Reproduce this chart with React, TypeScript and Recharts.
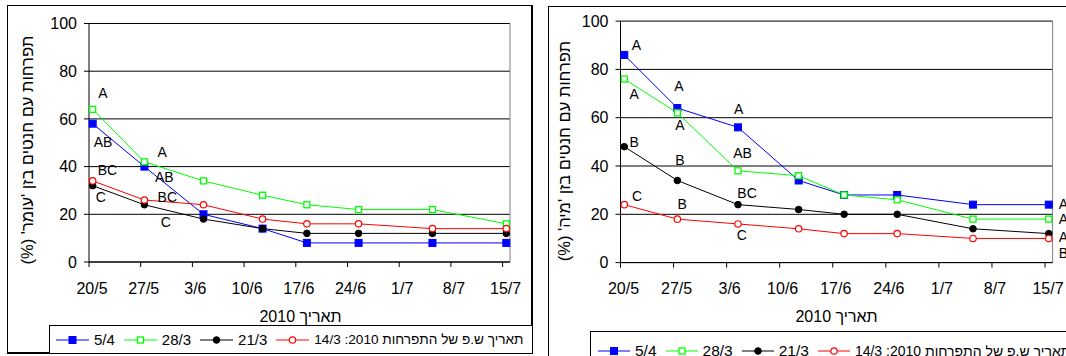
import React from "react";
import { ComposedChart, Line, Scatter, XAxis, YAxis, CartesianGrid, ReferenceLine } from "recharts";

// x axis: days counted from 20/5/2010
const tickDays = [0, 7, 14, 21, 28, 35, 42, 49, 56];
const tickLabels = ["20/5", "27/5", "3/6", "10/6", "17/6", "24/6", "1/7", "8/7", "15/7"];
const yTicks = [0, 20, 40, 60, 80, 100];
const sampleDays = [0.5, 7.5, 15.5, 23.5, 29.5, 36.5, 46.5, 56.5];

// flowering dates (legend order)
const seriesNames = ["5/4", "28/3", "21/3", "14/3"];
const legendTitle = "תאריך ש.פ של התפרחות 2010:";
const xTitle = "תאריך 2010";
const omerTitle = "תפרחות עם חנטים בזן 'עומר' (%)";
const mayaTitle = "תפרחות עם חנטים בזן 'מיה' (%)";

// 'Omer'
const omer54 = [58, 40, 20, 14, 8, 8, 8, 8];
const omer283 = [64, 42, 34, 28, 24, 22, 22, 16];
const omer213 = [32, 24, 18, 14, 12, 12, 12, 12];
const omer143 = [34, 26, 24, 18, 16, 16, 14, 14];

// 'Maya'
const maya54 = [86, 64, 56, 34, 28, 28, 24, 24];
const maya283 = [76, 62, 38, 36, 28, 26, 18, 18];
const maya213 = [48, 34, 24, 22, 20, 20, 14, 12];
const maya143 = [24, 18, 16, 14, 12, 12, 10, 10];

// significance letters
const omerLetters = [
  { day: 1.9, v: 71, text: "A" },
  { day: 1.9, v: 50.4, text: "AB" },
  { day: 2.5, v: 38.6, text: "BC" },
  { day: 1.6, v: 27.1, text: "C" },
  { day: 9.9, v: 46.2, text: "A" },
  { day: 10.2, v: 35.8, text: "AB" },
  { day: 10.6, v: 27.1, text: "BC" },
  { day: 10.4, v: 16.9, text: "C" },
];
const mayaLetters = [
  { day: 2.1, v: 90.1, text: "A" },
  { day: 1.8, v: 69.8, text: "A" },
  { day: 1.8, v: 49.8, text: "B" },
  { day: 2.2, v: 27.7, text: "C" },
  { day: 7.7, v: 73.1, text: "A" },
  { day: 7.85, v: 57, text: "A" },
  { day: 7.85, v: 42.5, text: "B" },
  { day: 8.15, v: 24.3, text: "B" },
  { day: 15.6, v: 63.6, text: "A" },
  { day: 16.1, v: 45.3, text: "AB" },
  { day: 16.7, v: 28.7, text: "BC" },
  { day: 16.0, v: 11.4, text: "C" },
];
const mayaEdgeLetters = [
  { day: 56.5, v: 24.2, text: "A" },
  { day: 56.5, v: 17.9, text: "A" },
  { day: 56.5, v: 10.7, text: "A" },
  { day: 56.5, v: 4.1, text: "B" },
];

const FONT = '"Liberation Sans", Arial, sans-serif';

const seriesStyles = [
  { color: "#0000FF", shape: "square", filled: true },
  { color: "#00FF00", shape: "square", filled: false },
  { color: "#000000", shape: "circle", filled: true },
  { color: "#FF0000", shape: "circle", filled: false },
];

const toRows = (vals: number[]) => sampleDays.map((day, i) => ({ day, v: vals[i] }));

function Marker({ cx, cy, s }: any) {
  if (s.shape === "square") {
    const size = s.filled ? 7 : 6;
    return (
      <rect
        x={cx - size / 2}
        y={cy - size / 2}
        width={size}
        height={size}
        fill={s.filled ? s.color : "#fff"}
        stroke={s.color}
        strokeWidth={s.filled ? 1 : 1.3}
      />
    );
  }
  return (
    <circle
      cx={cx}
      cy={cy}
      r={s.filled ? 3.3 : 3.2}
      fill={s.filled ? s.color : "#fff"}
      stroke={s.color}
      strokeWidth={s.filled ? 1 : 1.2}
    />
  );
}

const letterShape = (p: any) => (
  <text x={p.cx} y={p.cy} textAnchor="middle" dominantBaseline="central" fontSize={14} fill="#000">
    {p.payload.text}
  </text>
);

const edgeLetterShape = (p: any) => (
  <text x={p.cx + 10} y={p.cy} textAnchor="start" dominantBaseline="central" fontSize={14} fill="#000">
    {p.payload.text}
  </text>
);

const XTick = ({ x, y, payload }: any) => (
  <text x={x + 3} y={y} dy={11.5} textAnchor="middle" fontSize={16} fill="#000">
    {tickLabels[tickDays.indexOf(payload.value)]}
  </text>
);

function LegendIcon({ s, w }: any) {
  return (
    <svg width={w} height={12} style={{ display: "block", flex: "none" }}>
      <line x1={0} x2={w} y1={6} y2={6} stroke={s.color} strokeWidth={1} />
      <Marker cx={w / 2} cy={6} s={s} />
    </svg>
  );
}

function Panel({ g, series, letters, edgeLetters, yTitle }: any) {
  return (
    <>
      <div
        style={{
          position: "absolute",
          left: g.box[0],
          top: g.box[1],
          width: g.box[2],
          height: g.box[3],
          border: "1px solid #000",
          borderRightWidth: 2,
          borderBottomWidth: 2,
          boxSizing: "border-box",
        }}
      />
      <div style={{ position: "absolute", left: g.chartLeft, top: 0 }}>
        <ComposedChart width={g.chartW} height={300} margin={g.margin}>
          <CartesianGrid horizontal vertical={false} stroke="#000" />
          <XAxis
            type="number"
            dataKey="day"
            domain={[0, 57]}
            ticks={tickDays}
            interval={0}
            height={30}
            tickSize={5}
            tickMargin={15}
            tick={<XTick />}
            axisLine={{ stroke: "#000" }}
            tickLine={{ stroke: "#000" }}
          />
          <YAxis
            type="number"
            domain={[0, 100]}
            ticks={yTicks}
            interval={0}
            width={60}
            tickSize={5}
            tickMargin={7}
            tick={{ fill: "#000", fontSize: 16 }}
            axisLine={{ stroke: "#000" }}
            tickLine={{ stroke: "#000" }}
          />
          <ReferenceLine x={57} stroke="#808080" />
          {series.map((vals: number[], i: number) => {
            const s = seriesStyles[i];
            return (
              <Line
                key={seriesNames[i]}
                data={toRows(vals)}
                dataKey="v"
                name={seriesNames[i]}
                stroke={s.color}
                strokeWidth={1}
                dot={(p: any) => <Marker key={`${i}-${p.index}`} cx={p.cx} cy={p.cy} s={s} />}
                activeDot={false}
                isAnimationActive={false}
              />
            );
          })}
          <Scatter data={letters} dataKey="v" shape={letterShape} isAnimationActive={false} />
          {edgeLetters && (
            <Scatter data={edgeLetters} dataKey="v" shape={edgeLetterShape} isAnimationActive={false} />
          )}
        </ComposedChart>
      </div>
      <div
        style={{
          position: "absolute",
          left: g.yTitle[0],
          top: g.yTitle[1],
          transform: "translate(-50%, -50%) rotate(-90deg)",
          whiteSpace: "nowrap",
          direction: "rtl",
          fontSize: g.yTitleFont,
        }}
      >
        {yTitle}
      </div>
      <div
        style={{
          position: "absolute",
          left: g.xTitle[0],
          top: g.xTitle[1],
          transform: "translate(-50%, -50%)",
          whiteSpace: "nowrap",
          direction: "rtl",
          fontSize: 16,
        }}
      >
        {xTitle}
      </div>
      <div
        style={{
          position: "absolute",
          left: g.legend[0],
          top: g.legend[1],
          width: g.legend[2],
          height: g.legend[3],
          border: "1px solid #000",
          boxSizing: "border-box",
          display: "flex",
          alignItems: "center",
          paddingLeft: g.legendPad,
          fontSize: g.legendFont,
          whiteSpace: "nowrap",
          background: "#fff",
          overflow: "hidden",
        }}
      >
        {seriesNames.map((name, i) => (
          <React.Fragment key={name}>
            <LegendIcon s={seriesStyles[i]} w={g.iconW} />
            <span
              style={{
                marginLeft: 5,
                marginRight: 9,
                direction: i === 3 ? "rtl" : "ltr",
                unicodeBidi: "isolate",
                fontSize: i === 3 ? g.legendLongFont : undefined,
              }}
            >
              {i === 3 ? `${legendTitle} ${name}` : name}
            </span>
          </React.Fragment>
        ))}
      </div>
    </>
  );
}

const leftGeom = {
  box: [7, 5, 526, 349],
  chartLeft: 0,
  chartW: 540,
  margin: { top: 23.5, right: 30, bottom: 8, left: 29 },
  yTitle: [27, 150],
  yTitleFont: 16.5,
  xTitle: [300.5, 317.3],
  legend: [49, 325, 484, 29],
  legendPad: 6,
  legendFont: 15,
  legendLongFont: 13.6,
  iconW: 33,
};

const rightGeom = {
  box: [548, 6, 540, 360],
  chartLeft: 540,
  chartW: 545,
  margin: { top: 21.1, right: 32.4, bottom: 7.4, left: 20.5 },
  yTitle: [564, 151],
  yTitleFont: 16.5,
  xTitle: [836.5, 316.6],
  legend: [590, 331, 500, 40],
  legendPad: 7,
  legendFont: 15.5,
  legendLongFont: 14,
  iconW: 32,
};

export default function App() {
  return (
    <div
      style={{
        position: "absolute",
        left: 0,
        top: 0,
        width: 1066,
        height: 356,
        overflow: "hidden",
        background: "#fff",
        fontFamily: FONT,
        color: "#000",
      }}
    >
      <Panel
        g={leftGeom}
        series={[omer54, omer283, omer213, omer143]}
        letters={omerLetters}
        yTitle={omerTitle}
      />
      <Panel
        g={rightGeom}
        series={[maya54, maya283, maya213, maya143]}
        letters={mayaLetters}
        edgeLetters={mayaEdgeLetters}
        yTitle={mayaTitle}
      />
    </div>
  );
}
